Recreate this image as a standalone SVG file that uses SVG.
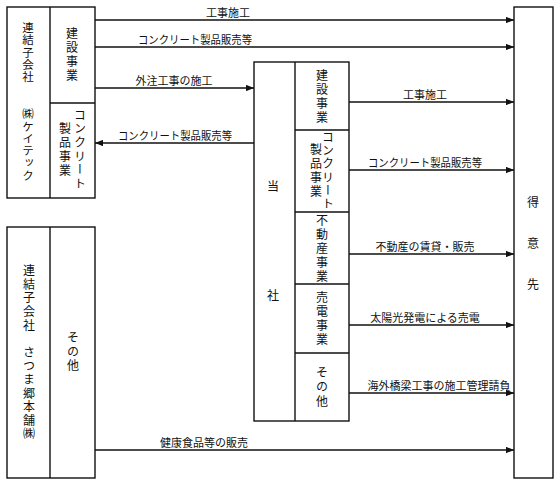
<svg xmlns="http://www.w3.org/2000/svg" width="560" height="485" viewBox="0 0 560 485">
<style>
text{font-family:"Noto Sans CJK JP","Noto Sans",sans-serif;fill:#111;}
.box{fill:#fff;stroke:#111;stroke-width:1.4;}
.div{stroke:#111;stroke-width:1.4;fill:none;}
.v{writing-mode:vertical-rl;text-anchor:middle;font-size:12px;letter-spacing:2px;}
.h{text-anchor:middle;font-size:12px;}
.lbl{text-anchor:middle;font-size:11px;}
.ln{stroke:#111;stroke-width:1.3;fill:none;}
.arr{marker-end:url(#ah);}
</style>
<defs>
<marker id="ah" viewBox="0 0 10 8" refX="10" refY="4" markerWidth="8" markerHeight="6.4" markerUnits="userSpaceOnUse" orient="auto">
<path d="M0,0 L10,4 L0,8 z" fill="#111"/>
</marker>
</defs>

<g id="keitec">
<rect class="box" x="7" y="7" width="88" height="191"/>
<line class="div" x1="50" y1="7" x2="50" y2="198"/>
<line class="div" x1="50" y1="103" x2="95" y2="103"/>
<text class="v" x="28" y="102" style="font-size:11.5px;letter-spacing:0.8px">連結子会社　　㈱ケイテック</text>
<text class="v" x="72" y="55">建設事業</text>
<text class="v" x="80" y="150" style="letter-spacing:1.6px">コンクリート</text>
<text class="v" x="65" y="150">製品事業</text>
</g>

<g id="satsuma">
<rect class="box" x="7" y="227" width="88" height="251"/>
<line class="div" x1="50" y1="227" x2="50" y2="478"/>
<text class="v" x="29" y="353" style="letter-spacing:1.6px">連結子会社　さつま郷本舗㈱</text>
<text class="v" x="73" y="352">その他</text>
</g>

<g id="tousha">
<rect class="box" x="254" y="62" width="95" height="359"/>
<line class="div" x1="295" y1="62" x2="295" y2="421"/>
<line class="div" x1="295" y1="130" x2="349" y2="130"/>
<line class="div" x1="295" y1="212" x2="349" y2="212"/>
<line class="div" x1="295" y1="284" x2="349" y2="284"/>
<line class="div" x1="295" y1="353" x2="349" y2="353"/>
<text class="h" x="273" y="191">当</text>
<text class="h" x="273" y="300">社</text>
<text class="v" x="322" y="97">建設事業</text>
<text class="v" x="328" y="171" style="letter-spacing:1.2px">コンクリート</text>
<text class="v" x="316" y="171">製品事業</text>
<text class="v" x="322" y="249">不動産事業</text>
<text class="v" x="322" y="319">売電事業</text>
<text class="v" x="322" y="388" style="letter-spacing:2.5px">その他</text>
</g>

<g id="tokuisaki">
<rect class="box" x="514" y="7" width="39" height="471"/>
<text class="v" x="533" y="258" style="letter-spacing:29px">得意先</text>
</g>

<g id="connectors">
<line class="ln arr" x1="95" y1="20" x2="514" y2="20"/>
<text class="lbl" x="228" y="17">工事施工</text>
<line class="ln arr" x1="95" y1="47" x2="514" y2="47"/>
<text class="lbl" x="195" y="44" textLength="114" lengthAdjust="spacingAndGlyphs">コンクリート製品販売等</text>
<line class="ln arr" x1="95" y1="88" x2="254" y2="88"/>
<text class="lbl" x="174" y="85">外注工事の施工</text>
<line class="ln arr" x1="254" y1="143" x2="95" y2="143"/>
<text class="lbl" x="175" y="140" textLength="114" lengthAdjust="spacingAndGlyphs">コンクリート製品販売等</text>
<line class="ln arr" x1="349" y1="102" x2="514" y2="102"/>
<text class="lbl" x="425" y="99">工事施工</text>
<line class="ln arr" x1="349" y1="170" x2="514" y2="170"/>
<text class="lbl" x="425" y="167" textLength="114" lengthAdjust="spacingAndGlyphs">コンクリート製品販売等</text>
<line class="ln arr" x1="349" y1="254" x2="514" y2="254"/>
<text class="lbl" x="425" y="251">不動産の賃貸・販売</text>
<line class="ln arr" x1="349" y1="325" x2="514" y2="325"/>
<text class="lbl" x="425" y="322">太陽光発電による売電</text>
<line class="ln arr" x1="349" y1="393" x2="514" y2="393"/>
<text class="lbl" x="439" y="390">海外橋梁工事の施工管理請負</text>
<line class="ln arr" x1="95" y1="450" x2="514" y2="450"/>
<text class="lbl" x="204" y="447">健康食品等の販売</text>
</g>
</svg>
